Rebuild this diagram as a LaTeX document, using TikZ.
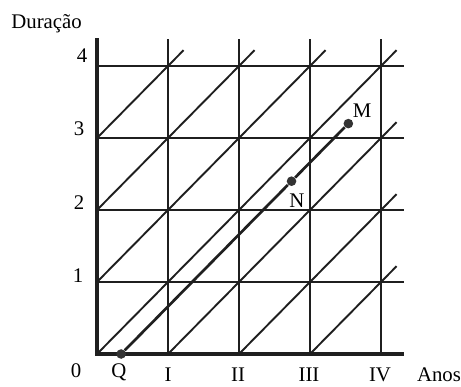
\documentclass[tikz,border=0pt]{standalone}
\usepackage{fontspec}
\setmainfont{Liberation Serif}
\begin{document}
\begin{tikzpicture}[x=0.5pt,y=-0.5pt,
  font=\fontsize{10.4}{12}\selectfont,
  gridline/.style={line width=1.1pt, black!88},
  axisline/.style={line width=1.6pt, black!88, line cap=rect},
  diagline/.style={line width=0.95pt, black!88},
  pathline/.style={line width=1.35pt, black!88},
  dotnode/.style={circle, fill=black!80, inner sep=0pt, minimum size=4.8pt},
  lbl/.style={anchor=base, inner sep=0pt}]
\useasboundingbox (0,0) rectangle (461,386);
\begin{scope}[shift={(97,354)}, x=35.5pt, y=36pt]
  % grid
  \foreach \j in {1,...,4} \draw[gridline] (0,\j) -- (4.32,\j);
  \foreach \i in {1,...,4} \draw[gridline] (\i,0) -- (\i,4.37);
  % diagonals
  \draw[diagline] (0,3) -- (1.22,4.22);
  \draw[diagline] (0,2) -- (2.22,4.22);
  \draw[diagline] (0,1) -- (3.22,4.22);
  \draw[diagline] (0,0) -- (4.22,4.22);
  \draw[diagline] (1,0) -- (4.22,3.22);
  \draw[diagline] (2,0) -- (4.22,2.22);
  \draw[diagline] (3,0) -- (4.22,1.22);
  % axes
  \draw[axisline] (0,4.37) -- (0,0) -- (4.3,0);
  % path Q - N - M
  \node[dotnode] (Q) at (0.34,0) {};
  \node[dotnode] (N) at (2.74,2.4) {};
  \node[dotnode] (M) at (3.54,3.2) {};
  \draw[pathline] (Q) -- (N) -- (M);
\end{scope}
% labels
\node[lbl, anchor=base west] (dur) at (11,28) {Duração};
\node[lbl] (y4) at (82,62) {4};
\node[lbl] (y3) at (79,135) {3};
\node[lbl] (y2) at (79,209) {2};
\node[lbl] (y1) at (78,282) {1};
\node[lbl] (y0) at (76,377) {0};
\node[lbl] (lq) at (119,377) {Q};
\node[lbl] (x1) at (168,381) {I};
\node[lbl] (x2) at (238,381) {II};
\node[lbl] (x3) at (309,381) {III};
\node[lbl] (x4) at (380,381) {IV};
\node[lbl] (anos) at (439,381) {Anos};
\node[lbl] (lm) at (362,117) {M};
\node[lbl] (ln) at (297,207) {N};
\end{tikzpicture}
\end{document}
